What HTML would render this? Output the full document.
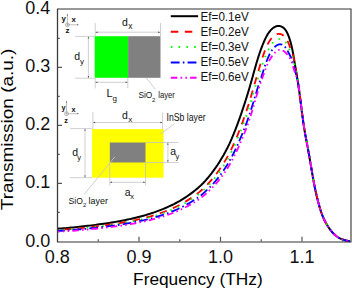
<!DOCTYPE html>
<html><head><meta charset="utf-8">
<style>
html,body{margin:0;padding:0;background:#fff;}
body{width:352px;height:291px;overflow:hidden;}
svg{display:block;}
text{font-family:"Liberation Sans", sans-serif;fill:#111;}
</style></head>
<body>
<svg width="352" height="291" viewBox="0 0 352 291">
<rect x="0" y="0" width="352" height="291" fill="#fff"/>
<!-- ===== inset 1 ===== -->
<g>
  <g stroke="#b0b0b0" stroke-width="0.8" fill="none">
    <line x1="67.4" y1="14.5" x2="67.4" y2="24.8"/>
    <line x1="67.4" y1="24.8" x2="77.8" y2="24.8"/>
    <circle cx="67.4" cy="24.8" r="1.9" stroke="#999"/>
  </g>
  <circle cx="67.4" cy="24.8" r="0.6" fill="#777"/><circle cx="66.5" cy="113.7" r="0.6" fill="#777"/>
  <g fill="#555"><path d="M66.8 15.5L67.4 13.6L68 15.5Z"/><path d="M77 24.2L78.9 24.8L77 25.4Z"/></g>
  <text x="61.5" y="20.9" font-size="7.8" font-weight="bold">y</text>
  <text x="71.6" y="22.3" font-size="7.8" font-weight="bold">x</text>
  <text x="65.4" y="32.7" font-size="8" font-weight="bold">z</text>
  <rect x="94.7" y="36.2" width="33.4" height="41.6" fill="#00ff00"/>
  <rect x="128.1" y="36.2" width="32.4" height="41.6" fill="#808080"/>
  <g stroke="#c4c4c4" stroke-width="0.8" fill="none">
    <line x1="95.2" y1="23" x2="95.2" y2="36"/>
    <line x1="160.5" y1="23" x2="160.5" y2="36"/>
    <line x1="95.2" y1="32.2" x2="160.5" y2="32.2"/>
    <line x1="75" y1="36.4" x2="94.7" y2="36.4"/>
    <line x1="75" y1="78.2" x2="94.7" y2="78.2"/>
    <line x1="88.4" y1="36.4" x2="88.4" y2="78.2"/>
    <line x1="95.2" y1="78" x2="95.2" y2="88.4"/>
    <line x1="127.8" y1="78" x2="127.8" y2="88"/>
    <line x1="95.2" y1="82.3" x2="127.8" y2="82.3"/>
    <line x1="146.3" y1="78" x2="155.6" y2="89.5"/>
  </g>
  <g fill="#444">
    <path d="M95.4 32.2L97.6 31.5L97.6 32.9Z"/><path d="M160.3 32.2L158.1 31.5L158.1 32.9Z"/>
    <path d="M88.4 36.6L87.7 38.6L89.1 38.6Z"/><path d="M88.4 78L87.7 76L89.1 76Z"/>
    <path d="M95.4 82.3L97.4 81.6L97.4 83Z"/><path d="M127.6 82.3L125.6 81.6L125.6 83Z"/>
  </g>
  <text x="122.1" y="25.6" font-size="10.5">d</text>
  <text x="128.3" y="29.4" font-size="8.5">x</text>
  <text x="74.3" y="60" font-size="10.5">d</text>
  <text x="80.1" y="64.3" font-size="8">y</text>
  <text x="106.5" y="96.8" font-size="11">L</text>
  <text x="112.6" y="100.8" font-size="8">g</text>
  <text x="138.4" y="98.4" font-size="8.8" textLength="13.9" lengthAdjust="spacingAndGlyphs">SiO</text>
  <text x="152.1" y="101.6" font-size="6">2</text>
  <text x="158.2" y="98.4" font-size="8.8" textLength="16.6" lengthAdjust="spacingAndGlyphs">layer</text>
</g>
<!-- ===== inset 2 ===== -->
<g>
  <g stroke="#b0b0b0" stroke-width="0.8" fill="none">
    <line x1="66.5" y1="101.5" x2="66.5" y2="113.7"/>
    <line x1="66.5" y1="113.7" x2="78" y2="113.7"/>
    <circle cx="66.5" cy="113.7" r="1.9" stroke="#999"/>
  </g>
  <g fill="#555"><path d="M65.9 102.5L66.5 100.6L67.1 102.5Z"/><path d="M77.2 113.1L79.1 113.7L77.2 114.3Z"/></g>
  <text x="61.5" y="110.3" font-size="7.3" font-weight="bold">y</text>
  <text x="71.4" y="111.6" font-size="7.3" font-weight="bold">x</text>
  <text x="64.3" y="123.4" font-size="7.3" font-weight="bold">z</text>
  <rect x="92.1" y="129.1" width="71.5" height="48.6" fill="#ffff00"/>
  <rect x="109.8" y="142.5" width="35.7" height="20" fill="#808080"/>
  <g stroke="#c4c4c4" stroke-width="0.8" fill="none">
    <line x1="92.9" y1="112" x2="92.9" y2="129"/>
    <line x1="162.6" y1="112.5" x2="162.6" y2="129"/>
    <line x1="92.9" y1="122.5" x2="162.6" y2="122.5"/>
    <line x1="70" y1="128.6" x2="92.1" y2="128.6"/>
    <line x1="70" y1="177.7" x2="92.1" y2="177.7"/>
    <line x1="85" y1="128.6" x2="85" y2="177.7"/>
    <line x1="145.5" y1="142.5" x2="178.4" y2="142.5"/>
    <line x1="145.5" y1="162.5" x2="178.4" y2="162.5"/>
    <line x1="167.9" y1="142.5" x2="167.9" y2="162.5"/>
    <line x1="109.8" y1="162.5" x2="109.8" y2="185.5"/>
    <line x1="145.5" y1="162.5" x2="145.5" y2="185.5"/>
    <line x1="109.8" y1="182.3" x2="145.5" y2="182.3"/>
    <line x1="160.2" y1="134" x2="174.5" y2="123.9"/>
    <line x1="114.8" y1="156.8" x2="84.3" y2="194.3"/>
  </g>
  <g fill="#444">
    <path d="M93.1 122.5L95.1 121.8L95.1 123.2Z"/><path d="M162.4 122.5L160.4 121.8L160.4 123.2Z"/>
    <path d="M85 128.8L84.3 130.8L85.7 130.8Z"/><path d="M85 177.5L84.3 175.5L85.7 175.5Z"/>
    <path d="M167.9 142.7L167.2 144.7L168.6 144.7Z"/><path d="M167.9 162.3L167.2 160.3L168.6 160.3Z"/>
    <path d="M110 182.3L112 181.6L112 183Z"/><path d="M145.3 182.3L143.3 181.6L143.3 183Z"/>
  </g>
  <text x="122" y="118.6" font-size="10.5">d</text>
  <text x="128.2" y="122.2" font-size="8">x</text>
  <text x="72.2" y="155.6" font-size="10.5">d</text>
  <text x="77.2" y="159.9" font-size="7.5">y</text>
  <text x="170.2" y="155.2" font-size="10.5">a</text>
  <text x="175.4" y="158.9" font-size="7.5">y</text>
  <text x="124.8" y="195.6" font-size="10.5">a</text>
  <text x="130.2" y="199.2" font-size="7.5">x</text>
  <text x="166.6" y="120.5" font-size="10" textLength="39" lengthAdjust="spacingAndGlyphs">InSb layer</text>
  <text x="68.6" y="204.3" font-size="9.5" textLength="14.3" lengthAdjust="spacingAndGlyphs">SiO</text>
  <text x="83" y="207.4" font-size="5.8">2</text>
  <text x="88.6" y="204.3" font-size="9.5" textLength="19.3" lengthAdjust="spacingAndGlyphs">layer</text>
</g>
<!-- ===== legend ===== -->
<g stroke-width="2" fill="none">
  <line x1="170.8" y1="16.2" x2="198.1" y2="16.2" stroke="#000"/>
  <line x1="170.8" y1="31.7" x2="198.1" y2="31.7" stroke="#ff0000" stroke-dasharray="7.5 6.5"/>
  <line x1="170.8" y1="47" x2="198.1" y2="47" stroke="#00ff00" stroke-dasharray="1.6 6.2"/>
  <line x1="170.8" y1="62.6" x2="198.1" y2="62.6" stroke="#0000ff" stroke-dasharray="8.8 3.2 1.6 3.2"/>
  <line x1="170.8" y1="77.8" x2="198.1" y2="77.8" stroke="#ff00ff" stroke-dasharray="6.5 3.2 1.6 3.2 1.6 3.2"/>
</g>
<g font-size="12">
  <text x="200.6" y="20.8" textLength="48.2" lengthAdjust="spacingAndGlyphs">Ef=0.1eV</text>
  <text x="200.6" y="36.4" textLength="48.2" lengthAdjust="spacingAndGlyphs">Ef=0.2eV</text>
  <text x="200.6" y="51.4" textLength="48.2" lengthAdjust="spacingAndGlyphs">Ef=0.3eV</text>
  <text x="200.6" y="66.3" textLength="48.2" lengthAdjust="spacingAndGlyphs">Ef=0.5eV</text>
  <text x="200.6" y="81.4" textLength="48.2" lengthAdjust="spacingAndGlyphs">Ef=0.6eV</text>
</g>
<!-- ===== curves ===== -->
<g stroke-linecap="butt" stroke-linejoin="round">
<path d="M57.50 228.70L59.50 228.59L61.50 228.44L63.50 228.28L65.50 228.13L67.50 227.96L69.50 227.79L71.50 227.61L73.50 227.42L75.50 227.22L77.50 227.01L79.50 226.80L81.50 226.57L83.50 226.34L85.50 226.10L87.50 225.86L89.50 225.62L91.50 225.37L93.50 225.12L95.50 224.87L97.50 224.61L99.50 224.34L101.50 224.06L103.50 223.78L105.50 223.48L107.50 223.18L109.50 222.87L111.50 222.55L113.50 222.22L115.50 221.87L117.50 221.52L119.50 221.15L121.50 220.78L123.50 220.39L125.50 219.98L127.50 219.57L129.50 219.14L131.50 218.69L133.50 218.24L135.50 217.76L137.50 217.27L139.50 216.76L141.50 216.23L143.50 215.68L145.50 215.11L147.50 214.52L149.50 213.90L151.50 213.25L153.50 212.58L155.50 211.89L157.50 211.16L159.50 210.41L161.50 209.63L163.50 208.83L165.50 207.99L167.50 207.12L169.50 206.21L171.50 205.27L173.50 204.29L175.50 203.26L177.50 202.18L179.50 201.05L181.50 199.86L183.50 198.62L185.50 197.32L187.50 195.97L189.50 194.57L191.50 193.12L193.50 191.61L195.50 190.04L197.50 188.38L199.50 186.61L201.50 184.72L203.50 182.71L205.50 180.56L207.50 178.28L209.50 175.88L211.50 173.35L213.50 170.68L215.50 167.89L217.50 164.95L219.50 161.86L221.50 158.60L223.50 155.18L225.50 151.55L227.50 147.70L229.50 143.59L231.50 139.17L233.50 134.45L235.50 129.45L237.50 124.17L239.50 118.65L240.00 117.23L240.50 115.80L241.00 114.35L241.50 112.89L242.00 111.42L242.50 109.93L243.00 108.43L243.50 106.93L244.00 105.41L244.50 103.88L245.00 102.33L245.50 100.78L246.00 99.21L246.50 97.63L247.00 96.03L247.50 94.41L248.00 92.78L248.50 91.13L249.00 89.47L249.50 87.78L250.00 86.07L250.50 84.34L251.00 82.58L251.50 80.81L252.00 79.02L252.50 77.21L253.00 75.40L253.50 73.59L254.00 71.79L254.50 69.99L255.00 68.21L255.50 66.45L256.00 64.71L256.50 63.00L257.00 61.32L257.50 59.67L258.00 58.06L258.50 56.49L259.00 54.95L259.50 53.45L260.00 51.99L260.50 50.56L261.00 49.18L261.50 47.83L262.00 46.52L262.50 45.24L263.00 44.00L263.50 42.79L264.00 41.61L264.50 40.48L265.00 39.39L265.50 38.34L266.00 37.34L266.50 36.39L267.00 35.48L267.50 34.63L268.00 33.82L268.50 33.06L269.00 32.35L269.50 31.67L270.00 31.04L270.50 30.45L271.00 29.90L271.50 29.38L272.00 28.90L272.50 28.46L273.00 28.05L273.50 27.68L274.00 27.35L274.50 27.05L275.00 26.79L275.50 26.56L276.00 26.38L276.50 26.23L277.00 26.11L277.50 26.03L278.00 25.98L278.50 25.97L279.00 25.99L279.50 26.03L280.00 26.13L280.50 26.25L281.00 26.42L281.50 26.61L282.00 26.85L282.50 27.14L283.00 27.47L283.50 27.85L284.00 28.29L284.50 28.78L285.00 29.35L285.50 29.99L286.00 30.72L286.50 31.54L287.00 32.46L287.50 33.48L288.00 34.59L288.50 35.82L289.00 37.16L289.50 38.61L290.00 40.18L290.50 41.87L291.00 43.71L291.50 45.71L292.00 47.91L292.50 50.32L293.00 52.96L293.50 55.81L294.00 58.81L294.50 61.87L295.00 64.86L295.50 67.76L296.00 70.60L296.50 73.45L297.00 76.36L297.50 79.38L298.00 82.55L298.50 85.88L299.00 89.36L299.50 93.00L300.00 96.77L300.50 100.67L301.00 104.64L301.50 108.61L302.00 112.54L302.50 116.36L303.00 120.04L303.50 123.55L304.00 126.87L304.50 130.01L305.00 132.97L305.50 135.79L306.00 138.51L306.50 141.16L307.00 143.79L307.50 146.43L308.00 149.09L308.50 151.81L309.00 154.61L309.50 157.46L310.00 160.36L310.50 163.29L311.00 166.24L311.50 169.19L312.00 172.11L312.50 175.01L313.00 177.85L313.50 180.63L314.00 183.33L314.50 185.93L315.00 188.42L315.50 190.79L316.00 193.04L316.50 195.20L317.00 197.27L317.50 199.28L318.00 201.23L318.50 203.12L319.00 204.97L319.50 206.75L320.00 208.45L320.50 210.08L321.00 211.62L321.50 213.08L322.00 214.45L322.50 215.75L323.00 216.97L323.50 218.13L324.00 219.24L324.50 220.29L325.00 221.29L325.50 222.25L326.00 223.17L326.50 224.06L327.00 224.91L327.50 225.73L328.00 226.53L328.50 227.29L329.00 228.03L329.50 228.74L330.00 229.42L330.50 230.08L331.00 230.72L331.50 231.33L332.00 231.92L332.50 232.49L333.00 233.03L333.50 233.54L334.00 234.04L334.50 234.51L335.00 234.96L335.50 235.39L336.00 235.80L336.50 236.18L337.00 236.55L337.50 236.90L338.00 237.23L338.50 237.54L339.00 237.84L339.50 238.12L340.00 238.38L340.50 238.62L341.00 238.86L341.50 239.08L342.00 239.28L342.50 239.47L343.00 239.65L343.50 239.82L344.00 239.98L344.50 240.12L345.00 240.26L345.50 240.39L346.00 240.52L346.50 240.63L347.00 240.74L347.50 240.85L348.00 240.95L348.50 241.05L349.00 241.14L349.50 241.23L350.00 241.32" fill="none" stroke="#000" stroke-width="2"/>
<path d="M57.50 229.96L59.50 229.86L61.50 229.72L63.50 229.59L65.50 229.44L67.50 229.30L69.50 229.14L71.50 228.98L73.50 228.81L75.50 228.63L77.50 228.44L79.50 228.24L81.50 228.04L83.50 227.83L85.50 227.62L87.50 227.40L89.50 227.19L91.50 226.96L93.50 226.74L95.50 226.51L97.50 226.27L99.50 226.03L101.50 225.78L103.50 225.53L105.50 225.26L107.50 224.99L109.50 224.71L111.50 224.42L113.50 224.12L115.50 223.81L117.50 223.49L119.50 223.16L121.50 222.82L123.50 222.46L125.50 222.10L127.50 221.73L129.50 221.34L131.50 220.94L133.50 220.52L135.50 220.10L137.50 219.65L139.50 219.19L141.50 218.72L143.50 218.22L145.50 217.70L147.50 217.17L149.50 216.61L151.50 216.02L153.50 215.42L155.50 214.79L157.50 214.14L159.50 213.46L161.50 212.76L163.50 212.03L165.50 211.27L167.50 210.48L169.50 209.66L171.50 208.81L173.50 207.92L175.50 206.99L177.50 206.02L179.50 204.99L181.50 203.92L183.50 202.79L185.50 201.62L187.50 200.39L189.50 199.13L191.50 197.81L193.50 196.45L195.50 195.02L197.50 193.52L199.50 191.92L201.50 190.22L203.50 188.39L205.50 186.44L207.50 184.38L209.50 182.20L211.50 179.91L213.50 177.50L215.50 174.96L217.50 172.30L219.50 169.49L221.50 166.54L223.50 163.43L225.50 160.15L227.50 156.66L229.50 152.93L231.50 148.92L233.50 144.63L235.50 140.09L237.50 135.31L239.50 130.28L240.00 128.98L240.50 127.66L241.00 126.34L241.50 124.99L242.00 123.63L242.50 122.26L243.00 120.87L243.50 119.47L244.00 118.05L244.50 116.63L245.00 115.18L245.50 113.73L246.00 112.25L246.50 110.76L247.00 109.26L247.50 107.73L248.00 106.19L248.50 104.63L249.00 103.04L249.50 101.44L250.00 99.81L250.50 98.16L251.00 96.48L251.50 94.78L252.00 93.06L252.50 91.32L253.00 89.58L253.50 87.83L254.00 86.08L254.50 84.34L255.00 82.61L255.50 80.89L256.00 79.19L256.50 77.50L257.00 75.79L257.50 74.09L258.00 72.38L258.50 70.68L259.00 68.98L259.50 67.30L260.00 65.63L260.50 63.98L261.00 62.35L261.50 60.74L262.00 59.16L262.50 57.60L263.00 56.07L263.50 54.58L264.00 53.12L264.50 51.70L265.00 50.34L265.50 49.04L266.00 47.80L266.50 46.63L267.00 45.53L267.50 44.51L268.00 43.57L268.50 42.70L269.00 41.87L269.50 41.07L270.00 40.33L270.50 39.62L271.00 38.96L271.50 38.33L272.00 37.75L272.50 37.20L273.00 36.70L273.50 36.23L274.00 35.81L274.50 35.43L275.00 35.08L275.50 34.78L276.00 34.53L276.50 34.33L277.00 34.16L277.50 34.03L278.00 33.95L278.50 33.91L279.00 33.90L279.50 33.92L280.00 33.99L280.50 34.10L281.00 34.24L281.50 34.42L282.00 34.64L282.50 34.90L283.00 35.21L283.50 35.57L284.00 35.98L284.50 36.45L285.00 36.99L285.50 37.60L286.00 38.28L286.50 39.07L287.00 39.93L287.50 40.89L288.00 41.94L288.50 43.10L289.00 44.37L289.50 45.74L290.00 47.22L290.50 48.63L291.00 49.86L291.50 51.02L292.00 52.24L292.50 53.62L293.00 55.25L293.50 57.19L294.00 59.47L294.50 62.04L295.00 64.86L295.50 67.76L296.00 70.60L296.50 73.45L297.00 76.36L297.50 79.38L298.00 82.55L298.50 85.88L299.00 89.36L299.50 93.00L300.00 96.77L300.50 100.67L301.00 104.64L301.50 108.61L302.00 112.54L302.50 116.36L303.00 120.04L303.50 123.55L304.00 126.87L304.50 130.01L305.00 132.97L305.50 135.79L306.00 138.51L306.50 141.16L307.00 143.79L307.50 146.43L308.00 149.09L308.50 151.81L309.00 154.61L309.50 157.46L310.00 160.36L310.50 163.29L311.00 166.24L311.50 169.19L312.00 172.11L312.50 175.01L313.00 177.85L313.50 180.63L314.00 183.33L314.50 185.93L315.00 188.42L315.50 190.79L316.00 193.04L316.50 195.20L317.00 197.27L317.50 199.28L318.00 201.23L318.50 203.12L319.00 204.97L319.50 206.75L320.00 208.45L320.50 210.08L321.00 211.62L321.50 213.08L322.00 214.45L322.50 215.75L323.00 216.97L323.50 218.13L324.00 219.24L324.50 220.29L325.00 221.29L325.50 222.25L326.00 223.17L326.50 224.06L327.00 224.91L327.50 225.73L328.00 226.53L328.50 227.29L329.00 228.03L329.50 228.74L330.00 229.42L330.50 230.08L331.00 230.72L331.50 231.33L332.00 231.92L332.50 232.49L333.00 233.03L333.50 233.54L334.00 234.04L334.50 234.51L335.00 234.96L335.50 235.39L336.00 235.80L336.50 236.18L337.00 236.55L337.50 236.90L338.00 237.23L338.50 237.54L339.00 237.84L339.50 238.12L340.00 238.38L340.50 238.62L341.00 238.86L341.50 239.08L342.00 239.28L342.50 239.47L343.00 239.65L343.50 239.82L344.00 239.98L344.50 240.12L345.00 240.26L345.50 240.39L346.00 240.52L346.50 240.63L347.00 240.74L347.50 240.85L348.00 240.95L348.50 241.05L349.00 241.14L349.50 241.23L350.00 241.32" fill="none" stroke="#ff0000" stroke-width="1.8" stroke-dasharray="7.5 6.5" stroke-dashoffset="8.11"/>
<path d="M57.50 230.34L59.50 230.24L61.50 230.11L63.50 229.98L65.50 229.84L67.50 229.70L69.50 229.55L71.50 229.39L73.50 229.23L75.50 229.05L77.50 228.87L79.50 228.68L81.50 228.48L83.50 228.28L85.50 228.08L87.50 227.87L89.50 227.66L91.50 227.44L93.50 227.22L95.50 227.00L97.50 226.77L99.50 226.54L101.50 226.30L103.50 226.05L105.50 225.80L107.50 225.53L109.50 225.26L111.50 224.98L113.50 224.69L115.50 224.39L117.50 224.08L119.50 223.76L121.50 223.43L123.50 223.09L125.50 222.74L127.50 222.38L129.50 222.00L131.50 221.62L133.50 221.22L135.50 220.80L137.50 220.37L139.50 219.93L141.50 219.47L143.50 218.99L145.50 218.49L147.50 217.97L149.50 217.43L151.50 216.87L153.50 216.28L155.50 215.67L157.50 215.04L159.50 214.39L161.50 213.71L163.50 213.00L165.50 212.27L167.50 211.51L169.50 210.72L171.50 209.90L173.50 209.04L175.50 208.14L177.50 207.19L179.50 206.20L181.50 205.16L183.50 204.08L185.50 202.94L187.50 201.76L189.50 200.53L191.50 199.26L193.50 197.95L195.50 196.57L197.50 195.11L199.50 193.57L201.50 191.92L203.50 190.15L205.50 188.27L207.50 186.28L209.50 184.17L211.50 181.95L213.50 179.62L215.50 177.17L217.50 174.60L219.50 171.89L221.50 169.03L223.50 166.03L225.50 162.85L227.50 159.48L229.50 155.87L231.50 152.00L233.50 147.85L235.50 143.46L237.50 138.83L239.50 133.99L240.00 132.74L240.50 131.48L241.00 130.20L241.50 128.91L242.00 127.60L242.50 126.28L243.00 124.94L243.50 123.59L244.00 122.23L244.50 120.85L245.00 119.45L245.50 118.04L246.00 116.61L246.50 115.17L247.00 113.71L247.50 112.23L248.00 110.73L248.50 109.21L249.00 107.67L249.50 106.10L250.00 104.52L250.50 102.90L251.00 101.27L251.50 99.61L252.00 97.93L252.50 96.24L253.00 94.54L253.50 92.83L254.00 91.12L254.50 89.42L255.00 87.72L255.50 86.04L256.00 84.38L256.50 82.74L257.00 81.12L257.50 79.51L258.00 77.91L258.50 76.31L259.00 74.73L259.50 73.15L260.00 71.60L260.50 70.06L261.00 68.54L261.50 67.04L262.00 65.57L262.50 64.12L263.00 62.69L263.50 61.30L264.00 59.94L264.50 58.62L265.00 57.36L265.50 56.12L266.00 54.92L266.50 53.75L267.00 52.61L267.50 51.51L268.00 50.46L268.50 49.45L269.00 48.48L269.50 47.56L270.00 46.69L270.50 45.88L271.00 45.12L271.50 44.41L272.00 43.77L272.50 43.18L273.00 42.63L273.50 42.12L274.00 41.65L274.50 41.22L275.00 40.83L275.50 40.48L276.00 40.17L276.50 39.90L277.00 39.67L277.50 39.47L278.00 39.32L278.50 39.20L279.00 39.11L279.50 39.05L280.00 39.04L280.50 39.06L281.00 39.14L281.50 39.25L282.00 39.41L282.50 39.62L283.00 39.87L283.50 40.18L284.00 40.54L284.50 40.96L285.00 41.44L285.50 42.00L286.00 42.62L286.50 43.34L287.00 44.14L287.50 45.02L288.00 45.99L288.50 47.06L289.00 48.22L289.50 49.48L290.00 50.84L290.50 52.17L291.00 53.40L291.50 54.61L292.00 55.86L292.50 57.23L293.00 58.77L293.50 60.51L294.00 62.44L294.50 64.50L295.00 66.62L295.50 68.78L296.00 71.08L296.50 73.58L297.00 76.36L297.50 79.38L298.00 82.55L298.50 85.88L299.00 89.36L299.50 93.00L300.00 96.77L300.50 100.67L301.00 104.64L301.50 108.61L302.00 112.54L302.50 116.36L303.00 120.04L303.50 123.55L304.00 126.87L304.50 130.01L305.00 132.97L305.50 135.79L306.00 138.51L306.50 141.16L307.00 143.79L307.50 146.43L308.00 149.09L308.50 151.81L309.00 154.61L309.50 157.46L310.00 160.36L310.50 163.29L311.00 166.24L311.50 169.19L312.00 172.11L312.50 175.01L313.00 177.85L313.50 180.63L314.00 183.33L314.50 185.93L315.00 188.42L315.50 190.79L316.00 193.04L316.50 195.20L317.00 197.27L317.50 199.28L318.00 201.23L318.50 203.12L319.00 204.97L319.50 206.75L320.00 208.45L320.50 210.08L321.00 211.62L321.50 213.08L322.00 214.45L322.50 215.75L323.00 216.97L323.50 218.13L324.00 219.24L324.50 220.29L325.00 221.29L325.50 222.25L326.00 223.17L326.50 224.06L327.00 224.91L327.50 225.73L328.00 226.53L328.50 227.29L329.00 228.03L329.50 228.74L330.00 229.42L330.50 230.08L331.00 230.72L331.50 231.33L332.00 231.92L332.50 232.49L333.00 233.03L333.50 233.54L334.00 234.04L334.50 234.51L335.00 234.96L335.50 235.39L336.00 235.80L336.50 236.18L337.00 236.55L337.50 236.90L338.00 237.23L338.50 237.54L339.00 237.84L339.50 238.12L340.00 238.38L340.50 238.62L341.00 238.86L341.50 239.08L342.00 239.28L342.50 239.47L343.00 239.65L343.50 239.82L344.00 239.98L344.50 240.12L345.00 240.26L345.50 240.39L346.00 240.52L346.50 240.63L347.00 240.74L347.50 240.85L348.00 240.95L348.50 241.05L349.00 241.14L349.50 241.23L350.00 241.32" fill="none" stroke="#00ff00" stroke-width="1.8" stroke-dasharray="1.6 6.2" stroke-dashoffset="1.89"/>
<path d="M57.50 230.97L59.50 230.88L61.50 230.75L63.50 230.63L65.50 230.50L67.50 230.36L69.50 230.22L71.50 230.08L73.50 229.92L75.50 229.76L77.50 229.58L79.50 229.41L81.50 229.22L83.50 229.03L85.50 228.84L87.50 228.64L89.50 228.44L91.50 228.24L93.50 228.03L95.50 227.83L97.50 227.61L99.50 227.39L101.50 227.16L103.50 226.93L105.50 226.69L107.50 226.44L109.50 226.19L111.50 225.92L113.50 225.65L115.50 225.37L117.50 225.08L119.50 224.78L121.50 224.47L123.50 224.15L125.50 223.82L127.50 223.47L129.50 223.12L131.50 222.76L133.50 222.38L135.50 221.99L137.50 221.59L139.50 221.17L141.50 220.74L143.50 220.28L145.50 219.82L147.50 219.33L149.50 218.82L151.50 218.29L153.50 217.74L155.50 217.17L157.50 216.57L159.50 215.96L161.50 215.32L163.50 214.66L165.50 213.97L167.50 213.25L169.50 212.51L171.50 211.74L173.50 210.93L175.50 210.08L177.50 209.20L179.50 208.27L181.50 207.29L183.50 206.27L185.50 205.20L187.50 204.09L189.50 202.94L191.50 201.75L193.50 200.51L195.50 199.21L197.50 197.85L199.50 196.40L201.50 194.85L203.50 193.19L205.50 191.43L207.50 189.55L209.50 187.57L211.50 185.49L213.50 183.30L215.50 181.01L217.50 178.59L219.50 176.05L221.50 173.37L223.50 170.55L225.50 167.57L227.50 164.40L229.50 161.02L231.50 157.39L233.50 153.50L235.50 149.38L237.50 145.04L239.50 140.50L240.00 139.33L240.50 138.15L241.00 136.96L241.50 135.76L242.00 134.54L242.50 133.32L243.00 132.09L243.50 130.85L244.00 129.60L244.50 128.33L245.00 127.05L245.50 125.75L246.00 124.42L246.50 123.08L247.00 121.72L247.50 120.33L248.00 118.92L248.50 117.48L249.00 116.03L249.50 114.54L250.00 113.03L250.50 111.49L251.00 109.92L251.50 108.32L252.00 106.70L252.50 105.07L253.00 103.41L253.50 101.75L254.00 100.08L254.50 98.41L255.00 96.74L255.50 95.08L256.00 93.43L256.50 91.79L257.00 90.17L257.50 88.57L258.00 86.98L258.50 85.43L259.00 83.89L259.50 82.38L260.00 80.89L260.50 79.43L261.00 78.00L261.50 76.54L262.00 75.03L262.50 73.48L263.00 71.90L263.50 70.31L264.00 68.72L264.50 67.16L265.00 65.65L265.50 64.20L266.00 62.83L266.50 61.53L267.00 60.25L267.50 59.00L268.00 57.80L268.50 56.64L269.00 55.53L269.50 54.47L270.00 53.47L270.50 52.53L271.00 51.66L271.50 50.86L272.00 50.14L272.50 49.48L273.00 48.85L273.50 48.26L274.00 47.70L274.50 47.18L275.00 46.70L275.50 46.26L276.00 45.87L276.50 45.52L277.00 45.21L277.50 44.93L278.00 44.71L278.50 44.53L279.00 44.40L279.50 44.31L280.00 44.27L280.50 44.29L281.00 44.36L281.50 44.48L282.00 44.65L282.50 44.89L283.00 45.17L283.50 45.50L284.00 45.89L284.50 46.34L285.00 46.85L285.50 47.43L286.00 48.08L286.50 48.82L287.00 49.64L287.50 50.55L288.00 51.54L288.50 52.55L289.00 53.53L289.50 54.50L290.00 55.49L290.50 56.54L291.00 57.69L291.50 58.98L292.00 60.48L292.50 62.09L293.00 63.75L293.50 65.48L294.00 67.27L294.50 69.08L295.00 70.84L295.50 72.54L296.00 74.26L296.50 76.09L297.00 78.11L297.50 80.40L298.00 83.02L298.50 86.00L299.00 89.36L299.50 93.00L300.00 96.77L300.50 100.67L301.00 104.64L301.50 108.61L302.00 112.54L302.50 116.36L303.00 120.04L303.50 123.55L304.00 126.87L304.50 130.01L305.00 132.97L305.50 135.79L306.00 138.51L306.50 141.16L307.00 143.79L307.50 146.43L308.00 149.09L308.50 151.81L309.00 154.61L309.50 157.46L310.00 160.36L310.50 163.29L311.00 166.24L311.50 169.19L312.00 172.11L312.50 175.01L313.00 177.85L313.50 180.63L314.00 183.33L314.50 185.93L315.00 188.42L315.50 190.79L316.00 193.04L316.50 195.20L317.00 197.27L317.50 199.28L318.00 201.23L318.50 203.12L319.00 204.97L319.50 206.75L320.00 208.45L320.50 210.08L321.00 211.62L321.50 213.08L322.00 214.45L322.50 215.75L323.00 216.97L323.50 218.13L324.00 219.24L324.50 220.29L325.00 221.29L325.50 222.25L326.00 223.17L326.50 224.06L327.00 224.91L327.50 225.73L328.00 226.53L328.50 227.29L329.00 228.03L329.50 228.74L330.00 229.42L330.50 230.08L331.00 230.72L331.50 231.33L332.00 231.92L332.50 232.49L333.00 233.03L333.50 233.54L334.00 234.04L334.50 234.51L335.00 234.96L335.50 235.39L336.00 235.80L336.50 236.18L337.00 236.55L337.50 236.90L338.00 237.23L338.50 237.54L339.00 237.84L339.50 238.12L340.00 238.38L340.50 238.62L341.00 238.86L341.50 239.08L342.00 239.28L342.50 239.47L343.00 239.65L343.50 239.82L344.00 239.98L344.50 240.12L345.00 240.26L345.50 240.39L346.00 240.52L346.50 240.63L347.00 240.74L347.50 240.85L348.00 240.95L348.50 241.05L349.00 241.14L349.50 241.23L350.00 241.32" fill="none" stroke="#0000ff" stroke-width="1.8" stroke-dasharray="8.8 3.2 1.6 3.2" stroke-dashoffset="1.64"/>
<path d="M57.50 231.72L59.50 231.64L61.50 231.52L63.50 231.40L65.50 231.28L67.50 231.15L69.50 231.02L71.50 230.89L73.50 230.74L75.50 230.59L77.50 230.43L79.50 230.26L81.50 230.09L83.50 229.91L85.50 229.73L87.50 229.54L89.50 229.35L91.50 229.16L93.50 228.97L95.50 228.77L97.50 228.57L99.50 228.36L101.50 228.15L103.50 227.93L105.50 227.70L107.50 227.47L109.50 227.23L111.50 226.98L113.50 226.72L115.50 226.45L117.50 226.18L119.50 225.90L121.50 225.60L123.50 225.30L125.50 224.99L127.50 224.66L129.50 224.33L131.50 223.98L133.50 223.63L135.50 223.26L137.50 222.88L139.50 222.48L141.50 222.07L143.50 221.64L145.50 221.19L147.50 220.73L149.50 220.25L151.50 219.75L153.50 219.22L155.50 218.68L157.50 218.12L159.50 217.53L161.50 216.92L163.50 216.29L165.50 215.64L167.50 214.96L169.50 214.25L171.50 213.51L173.50 212.74L175.50 211.94L177.50 211.09L179.50 210.21L181.50 209.28L183.50 208.30L185.50 207.28L187.50 206.23L189.50 205.13L191.50 203.99L193.50 202.81L195.50 201.57L197.50 200.27L199.50 198.89L201.50 197.41L203.50 195.83L205.50 194.14L207.50 192.35L209.50 190.46L211.50 188.47L213.50 186.38L215.50 184.18L217.50 181.86L219.50 179.42L221.50 176.85L223.50 174.13L225.50 171.26L227.50 168.20L229.50 164.93L231.50 161.41L233.50 157.64L235.50 153.63L237.50 149.40L239.50 144.95L240.00 143.81L240.50 142.65L241.00 141.48L241.50 140.30L242.00 139.11L242.50 137.91L243.00 136.69L243.50 135.47L244.00 134.24L244.50 132.99L245.00 131.74L245.50 130.47L246.00 129.19L246.50 127.89L247.00 126.56L247.50 125.20L248.00 123.81L248.50 122.38L249.00 120.93L249.50 119.44L250.00 117.92L250.50 116.36L251.00 114.77L251.50 113.15L252.00 111.49L252.50 109.82L253.00 108.12L253.50 106.41L254.00 104.69L254.50 102.96L255.00 101.23L255.50 99.51L256.00 97.79L256.50 96.09L257.00 94.40L257.50 92.73L258.00 91.08L258.50 89.45L259.00 87.85L259.50 86.28L260.00 84.73L260.50 83.22L261.00 81.73L261.50 80.28L262.00 78.85L262.50 77.44L263.00 76.04L263.50 74.63L264.00 73.24L264.50 71.87L265.00 70.52L265.50 69.20L266.00 67.91L266.50 66.66L267.00 65.46L267.50 64.31L268.00 63.21L268.50 62.17L269.00 61.18L269.50 60.25L270.00 59.35L270.50 58.50L271.00 57.68L271.50 56.90L272.00 56.16L272.50 55.46L273.00 54.80L273.50 54.17L274.00 53.59L274.50 53.04L275.00 52.53L275.50 52.05L276.00 51.60L276.50 51.19L277.00 50.81L277.50 50.49L278.00 50.22L278.50 50.02L279.00 49.89L279.50 49.82L280.00 49.80L280.50 49.84L281.00 49.92L281.50 50.03L282.00 50.19L282.50 50.40L283.00 50.64L283.50 50.93L284.00 51.25L284.50 51.62L285.00 52.04L285.50 52.51L286.00 53.04L286.50 53.61L287.00 54.18L287.50 54.77L288.00 55.39L288.50 56.06L289.00 56.78L289.50 57.57L290.00 58.43L290.50 59.37L291.00 60.43L291.50 61.63L292.00 63.01L292.50 64.59L293.00 66.29L293.50 67.96L294.00 69.59L294.50 71.18L295.00 72.65L295.50 74.05L296.00 75.45L296.50 76.98L297.00 78.71L297.50 80.75L298.00 83.18L298.50 86.04L299.00 89.36L299.50 93.00L300.00 96.77L300.50 100.67L301.00 104.64L301.50 108.61L302.00 112.54L302.50 116.36L303.00 120.04L303.50 123.55L304.00 126.87L304.50 130.01L305.00 132.97L305.50 135.79L306.00 138.51L306.50 141.16L307.00 143.79L307.50 146.43L308.00 149.09L308.50 151.81L309.00 154.61L309.50 157.46L310.00 160.36L310.50 163.29L311.00 166.24L311.50 169.19L312.00 172.11L312.50 175.01L313.00 177.85L313.50 180.63L314.00 183.33L314.50 185.93L315.00 188.42L315.50 190.79L316.00 193.04L316.50 195.20L317.00 197.27L317.50 199.28L318.00 201.23L318.50 203.12L319.00 204.97L319.50 206.75L320.00 208.45L320.50 210.08L321.00 211.62L321.50 213.08L322.00 214.45L322.50 215.75L323.00 216.97L323.50 218.13L324.00 219.24L324.50 220.29L325.00 221.29L325.50 222.25L326.00 223.17L326.50 224.06L327.00 224.91L327.50 225.73L328.00 226.53L328.50 227.29L329.00 228.03L329.50 228.74L330.00 229.42L330.50 230.08L331.00 230.72L331.50 231.33L332.00 231.92L332.50 232.49L333.00 233.03L333.50 233.54L334.00 234.04L334.50 234.51L335.00 234.96L335.50 235.39L336.00 235.80L336.50 236.18L337.00 236.55L337.50 236.90L338.00 237.23L338.50 237.54L339.00 237.84L339.50 238.12L340.00 238.38L340.50 238.62L341.00 238.86L341.50 239.08L342.00 239.28L342.50 239.47L343.00 239.65L343.50 239.82L344.00 239.98L344.50 240.12L345.00 240.26L345.50 240.39L346.00 240.52L346.50 240.63L347.00 240.74L347.50 240.85L348.00 240.95L348.50 241.05L349.00 241.14L349.50 241.23L350.00 241.32" fill="none" stroke="#ff00ff" stroke-width="1.8" stroke-dasharray="6.5 3.2 1.6 3.2 1.6 3.2" stroke-dashoffset="4.38"/>

</g>
<!-- ===== frame ===== -->
<g fill="none">
  <path d="M57.5 9V242" stroke="#3c3c3c" stroke-width="1.3"/>
  <path d="M57 9H351V242H57" stroke="#333" stroke-width="1.1"/>
</g>
<g fill="none" stroke="#555" stroke-width="1.2">
  <path d="M139 241.5V236.8M220.5 241.5V236.8M302 241.5V236.8M98.25 241.5V239.2M179.75 241.5V239.2M261.25 241.5V239.2M342.75 241.5V239.2"/>
  <path d="M57.5 183.3H62M57.5 125.3H62M57.5 67.3H62M57.5 212.3H59.8M57.5 154.3H59.8M57.5 96.3H59.8M57.5 38.3H59.8"/>
</g>
<g font-size="18" text-anchor="end" style="fill:#000">
  <text x="50.3" y="14.1">0.4</text>
  <text x="50.3" y="72.2">0.3</text>
  <text x="50.3" y="130.3">0.2</text>
  <text x="50.3" y="188.3">0.1</text>
  <text x="50.3" y="246.8">0.0</text>
</g>
<g font-size="18" text-anchor="middle" style="fill:#000">
  <text x="57.3" y="263.2">0.8</text>
  <text x="139" y="263.2">0.9</text>
  <text x="220.6" y="263.2">1.0</text>
  <text x="302" y="263.2">1.1</text>
</g>
<text x="197.9" y="285.4" font-size="17.3" text-anchor="middle" style="fill:#000">Frequency (THz)</text>
<text transform="translate(13.1,129.4) rotate(-90) scale(1,0.88)" font-size="19" text-anchor="middle" style="fill:#000">Transmission (a.u.)</text>
</svg>
</body></html>
